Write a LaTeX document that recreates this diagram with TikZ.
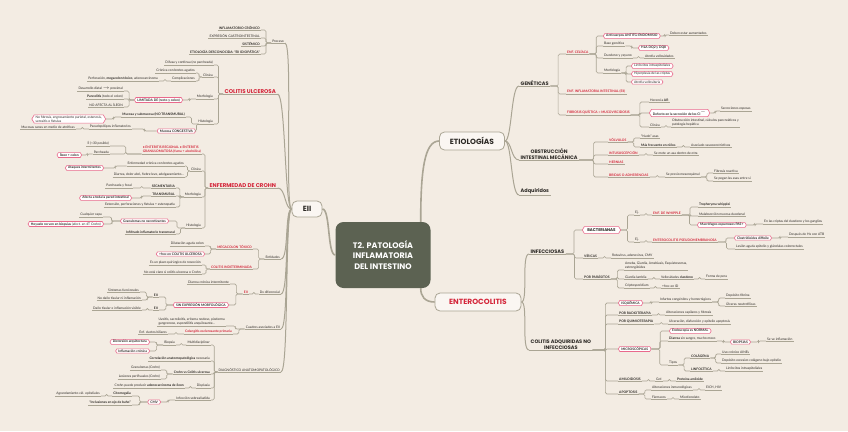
\documentclass[tikz,border=0pt]{standalone}
\usepackage{fontspec}
\setmainfont{Lato}
\newfontfamily\hd{Poppins}
\usetikzlibrary{calc,shapes.symbols}
\definecolor{bg}{RGB}{243,236,227}
\definecolor{ln}{RGB}{170,165,148}
\definecolor{rd}{RGB}{212,38,58}
\definecolor{pk}{RGB}{233,105,140}
\definecolor{tx}{RGB}{45,42,38}
\definecolor{dk}{RGB}{92,98,82}
\newcommand\ft{\fontsize{3.3}{3.9}\selectfont}
\newcommand\cc[2]{\draw[cn] (#1) -| ($(#1)!0.5!(#2)$) |- (#2);}
\newcommand\sL[2]{\draw[sp] (#1) .. controls +(-7,0) and +(8,0) .. (#2);}
\newcommand\sR[2]{\draw[sp] (#1) .. controls +(7,0) and +(-8,0) .. (#2);}
\tikzset{
 ul/.style={draw=ln, line width=0.6pt},
 lf/.style={font=\ft, text=tx, inner xsep=1pt, inner ysep=0.7pt,
   append after command={(\tikzlastnode.south west) edge[ul] (\tikzlastnode.south east)}},
 lfb/.style={lf, font=\ft\bfseries},
 rt/.style={lf, font=\ft\bfseries, text=rd},
 bigr/.style={lf, font=\hd\bfseries\fontsize{5.5}{6}\selectfont, text=rd, inner xsep=1.5pt},
 hdk/.style={lf, font=\hd\bfseries\fontsize{5}{6}\selectfont, text=tx, inner xsep=1.5pt},
 L/.style={anchor=south east},
 R/.style={anchor=south west},
 pb/.style={signal, signal to=west and east, signal pointer angle=120, draw=pk,
   line width=0.6pt, fill=white, font=\ft\bfseries, text=tx, inner xsep=1.5pt, inner ysep=0.9pt},
 pbn/.style={pb, font=\ft},
 cn/.style={draw=ln, line width=0.6pt, rounded corners=1.5pt},
 sp/.style={draw=ln, line width=1pt},
 mn/.style={draw=ln, line width=1.6pt},
 hub/.style={draw=ln, line width=0.8pt, fill=white!55!bg, rounded corners=5pt,
   font=\hd\bfseries\fontsize{7.5}{8}\selectfont, text=tx},
 ctrbox/.style={fill=dk, rounded corners=8pt, text=white, align=center,
   font=\hd\bfseries\fontsize{8}{10.5}\selectfont, minimum width=95pt, minimum height=66pt}
}
\begin{document}
\begin{tikzpicture}[x=1pt,y=-1pt]
\fill[bg] (0,0) rectangle (848,431);
\useasboundingbox (0,0) rectangle (848,431);

% ---------- hubs
\node[ctrbox] (ctr) at (383,255) {T2. PATOLOGÍA\\INFLAMATORIA\\DEL INTESTINO};
\node[hub, minimum width=30pt, minimum height=16pt] (eii) at (307,209) {EII};
\node[hub, minimum width=65pt, minimum height=18pt] (etio) at (472,141) {ETIOLOGÍAS};
\node[hub, text=rd, minimum width=86pt, minimum height=18pt] (ento) at (478,302) {ENTEROCOLITIS};
\draw[mn] (ctr.west) .. controls +(-8,0) and +(8,0) .. (eii.east);
\draw[mn] ([xshift=-10pt]ctr.north east) .. controls +(0,-50) and +(-15,0) .. (etio.west);
\draw[mn] ([xshift=-10pt]ctr.south east) .. controls +(0,8) and +(-10,0) .. (ento.west);

% ---------- left branch heads
\node[lf,L] (proc) at (285,43) {Proceso};
\node[bigr,R] (cu) at (223,94) {COLITIS ULCEROSA};
\node[bigr,R] (cr) at (208,188) {ENFERMEDAD DE CROHN};
\node[lf,L] (ent) at (281,259) {Entidades};
\node[lf,L] (dxd) at (281,294) {Dx diferencial};
\node[lf,L] (cua) at (281,329) {Cuadros asociados a EII};
\node[lf,L] (dg) at (281,372) {DIAGNÓSTICO ANATOMOPATOLÓGICO};
\sL{eii.west}{proc.south east}
\sL{eii.west}{cu.south east}
\sL{eii.west}{cr.south east}
\sL{eii.west}{ent.south east}
\sL{eii.west}{dxd.south east}
\sL{eii.west}{cua.south east}
\sL{eii.west}{dg.south east}

% ---------- Proceso
\node[lfb,L] (p1) at (261,30) {INFLAMATORIO CRÓNICO};
\node[lf,L] (p2) at (261,38) {EXPRESIÓN GASTROINTESTINAL};
\node[lfb,L] (p3) at (261,46) {SISTÉMICO};
\node[lfb,L] (p4) at (261,54) {ETIOLOGÍA DESCONOCIDA: “EII IDIOPÁTICA”};
\cc{proc.south west}{p1.south east}
\cc{proc.south west}{p2.south east}
\cc{proc.south west}{p3.south east}
\cc{proc.south west}{p4.south east}

% ---------- Colitis ulcerosa
\node[lf,L] (dif) at (214,65) {Difusa y continua (no parcheada)};
\node[lf,L] (cl1) at (214,77) {Clínica};
\node[lf,L] (mo1) at (214,99) {Morfología};
\node[lf,L] (hi1) at (214,124) {Histología};
\cc{cu.south west}{dif.south east}
\cc{cu.south west}{cl1.south east}
\cc{cu.south west}{mo1.south east}
\cc{cu.south west}{hi1.south east}
\node[lf,L] (c11) at (196,73) {Crónica con brotes agudos};
\node[lf,L] (c12) at (196,81) {Complicaciones};
\node[lf,L] (c121) at (159,81) {Perforación, \textbf{megacolon tóxico}, adenocarcinoma};
\cc{cl1.south west}{c11.south east}
\cc{cl1.south west}{c12.south east}
\cc{c12.south west}{c121.south east}
\node[pb,anchor=east] (pk1) at (183,100) {LIMITADA DE (recto y colon)};
\cc{mo1.south west}{pk1.east}
\node[lf,L] (m11) at (124,91) {Desarrollo distal $\rightarrow$ proximal};
\node[lf,L] (m12) at (124,99) {\textbf{Pancolitis} (todo el colon)};
\node[lf,L] (m13) at (124,107) {NO AFECTA AL ÍLEON};
\cc{pk1.west}{m11.south east}
\cc{pk1.west}{m12.south east}
\cc{pk1.west}{m13.south east}
\node[lfb,L] (h11) at (186,117) {Mucosa y submucosa (NO TRANSMURAL)};
\node[pb,anchor=east] (pk2) at (196,131) {Mucosa CONGESTIVA};
\cc{hi1.south west}{h11.south east}
\cc{hi1.south west}{pk2.east}
\node[pbn,anchor=east,align=left] (pk3) at (106,119) {No fibrosis, engrosamiento parietal, estenosis,\\serositis o fístulas};
\cc{h11.south west}{pk3.east}
\node[lf,L] (h21) at (132,129) {Pseudopólipos inflamatorios};
\node[lf,L] (h211) at (76,129) {Mucosas sanas en medio de atróficas};
\cc{pk2.west}{h21.south east}
\cc{h21.south west}{h211.south east}

% ---------- Crohn
\node[rt,L,align=left] (syn) at (202,154) {• ENTERITIS REGIONAL • ENTERITIS\\GRANULOMATOSA (fuma + alcohólica)};
\node[lf,L] (cl2) at (202,171) {Clínica};
\node[lf,L] (mo2) at (202,197) {Morfología};
\node[lf,L] (hi2) at (202,228) {Histología};
\cc{cr.south west}{syn.south east}
\cc{cr.south west}{cl2.south east}
\cc{cr.south west}{mo2.south east}
\cc{cr.south west}{hi2.south east}
\node[lf,L] (s1) at (110,146) {Íl (<30 posible)};
\node[lf,L] (s2) at (110,154) {Parcheada};
\cc{syn.south west}{s1.south east}
\cc{syn.south west}{s2.south east}
\node[pb,anchor=east] (pk4) at (82,155) {Íleon + colon};
\cc{s2.south west}{pk4.east}
\node[lf,L] (c21) at (185,166) {Enfermedad crónica con brotes agudos};
\node[lf,L] (c22) at (185,177) {Diarrea, dolor abd., fiebre leve, adelgazamiento...};
\cc{cl2.south west}{c21.south east}
\cc{cl2.south west}{c22.south east}
\node[pb,anchor=east] (pk5) at (104,168) {Ataques intermitentes};
\cc{c21.south west}{pk5.east}
\node[lfb,L] (m21) at (176,188) {SEGMENTARIA};
\node[lfb,L] (m22) at (176,196) {TRANSMURAL};
\node[lf,L] (m23) at (176,207) {Extensión, perforaciones y fístulas + estenopatía};
\cc{mo2.south west}{m21.south east}
\cc{mo2.south west}{m22.south east}
\cc{mo2.south west}{m23.south east}
\node[lf,L] (m211) at (133,188) {Parcheada y focal};
\node[pb,anchor=east] (pk6) at (132,198) {Afecta a toda la pared intestinal};
\cc{m21.south west}{m211.south east}
\cc{m22.south west}{pk6.east}
\node[pb,anchor=east] (pk7) at (169,221) {Granulomas no necrotizantes};
\node[lfb,L] (h22) at (176,234) {Infiltrado inflamatorio transmural};
\cc{hi2.south west}{pk7.east}
\cc{hi2.south west}{h22.south east}
\node[lf,L] (h221) at (103,217) {Cualquier capa};
\node[pb,anchor=east] (pk8) at (104,224) {Hoyuelo no ven en biopsias \mdseries(afect. en 4T Crohn)};
\cc{pk7.west}{h221.south east}
\cc{pk7.west}{pk8.east}

% ---------- Entidades
\node[rt,L] (mt) at (253,249) {MEGACOLON TÓXICO};
\node[rt,L] (ci) at (253,269) {COLITIS INDETERMINADA};
\cc{ent.south west}{mt.south east}
\cc{ent.south west}{ci.south east}
\node[lf,L] (mt1) at (205,246) {Dilatación aguda colon};
\node[pb,anchor=east] (pk9) at (205,254) {+frec en COLITIS ULCEROSA};
\cc{mt.south west}{mt1.south east}
\cc{mt.south west}{pk9.east}
\node[lf,L] (ci1) at (202,265) {Es un plazo quirúrgico de resección};
\node[lf,L] (ci2) at (202,274) {No está claro si colitis ulcerosa o Crohn};
\cc{ci.south west}{ci1.south east}
\cc{ci.south west}{ci2.south east}

% ---------- Dx diferencial
\node[rt,L] (eii2) at (249,294) {EII};
\cc{dxd.south west}{eii2.south east}
\node[lf,L] (dx1) at (230,284) {Diarrea crónica intermitente};
\node[pb,anchor=east] (pk10) at (229,305) {SIN EXPRESIÓN MORFOLÓGICA};
\cc{eii2.south west}{dx1.south east}
\cc{eii2.south west}{pk10.east}
\node[lfb,L] (e1) at (159,297) {EII};
\node[lfb,L] (e2) at (159,310) {EII};
\cc{pk10.west}{e1.south east}
\cc{pk10.west}{e2.south east}
\node[lf,L] (e11) at (140,292) {Síntomas funcionales};
\node[lf,L] (e12) at (142,300) {No daño tisular ni inflamación};
\node[lf,L] (e21) at (142,310) {Daño tisular e inflamación visible};
\cc{e1.south west}{e11.south east}
\cc{e1.south west}{e12.south east}
\cc{e2.south west}{e21.south east}

% ---------- Cuadros asociados
\node[lf,L,align=left] (cu1) at (226,326) {Uveítis, sacroileítis, eritema nodoso, pioderma\\gangrenoso, espondilitis anquilosante...};
\node[rt,L] (csp) at (233,334) {Colangitis esclerosante primaria};
\cc{cua.south west}{cu1.south east}
\cc{cua.south west}{csp.south east}
\node[lf,L] (csp1) at (168,334) {Enf. ductos biliares};
\cc{csp.south west}{csp1.south east}

% ---------- Diagnóstico
\node[lf,L] (dg1) at (211,345) {Multidisciplinar};
\node[lf,L] (dg2) at (211,361) {\textbf{Correlación anatomopatológica} necesaria};
\node[lfb,L] (dg3) at (211,374) {Crohn vs Colitis ulcerosa};
\node[lf,L] (dg4) at (211,388) {Displasia};
\node[lf,L] (dg5) at (211,400) {Infección sobreañadida};
\cc{dg.south west}{dg1.south east}
\cc{dg.south west}{dg2.south east}
\cc{dg.south west}{dg3.south east}
\cc{dg.south west}{dg4.south east}
\cc{dg.south west}{dg5.south east}
\node[lf,L] (bio) at (176,345) {Biopsia};
\cc{dg1.south west}{bio.south east}
\node[pb,anchor=east] (pk11) at (150,342) {Distorsión arquitectura};
\node[pb,anchor=east] (pk12) at (150,351) {Inflamación crónica};
\cc{bio.south west}{pk11.east}
\cc{bio.south west}{pk12.east}
\node[lf,L] (g1) at (161,370) {Granulomas (Crohn)};
\node[lf,L] (g2) at (161,379) {Lesiones perifisuales (Crohn)};
\cc{dg3.south west}{g1.south east}
\cc{dg3.south west}{g2.south east}
\node[lf,L] (d41) at (185,388) {Crohn puede producir \textbf{adenocarcinoma de íleon}};
\cc{dg4.south west}{d41.south east}
\node[pb,anchor=east] (pk13) at (161,402) {CMV};
\cc{dg5.south west}{pk13.east}
\node[lfb,L] (cm1) at (132,396) {Citomegalia};
\node[lfb,L] (cm2) at (132,405) {“Inclusiones en ojo de buho”};
\cc{pk13.west}{cm1.south east}
\cc{pk13.west}{cm2.south east}
\node[lf,L] (cm11) at (101,396) {Agrandamiento cél. epiteliales};
\cc{cm1.south west}{cm11.south east}

% ---------- right heads
\node[hdk,R] (gen) at (519,86) {GENÉTICAS};
\node[hdk,R,align=center] (obs) at (519,160) {OBSTRUCCIÓN\\INTESTINAL MECÁNICA};
\node[hdk,R] (adq) at (519,195) {Adquiridos};
\node[hdk,R] (inf) at (529,254) {INFECCIOSAS};
\node[hdk,R,align=center] (cad) at (529,350) {COLITIS ADQUIRIDAS NO\\INFECCIOSAS};
\sR{etio.east}{gen.south west}
\sR{etio.east}{obs.south west}
\sR{etio.east}{adq.south west}
\sR{ento.east}{inf.south west}
\sR{ento.east}{cad.south west}

% ---------- Genéticas
\node[rt,R] (cel) at (566,54) {ENF. CELÍACA};
\node[rt,R] (eiig) at (566,94) {ENF. INFLAMATORIA INTESTINAL (EII)};
\node[rt,R] (fq) at (566,115) {FIBROSIS QUÍSTICA = MUCOVISCIDOSIS};
\cc{gen.south east}{cel.south west}
\cc{gen.south east}{eiig.south west}
\cc{gen.south east}{fq.south west}
\node[pb,anchor=west] (pk14) at (603,36) {Anticuerpos ANTITG-ENDOMISIO};
\node[lf,R] (bg) at (603,46) {Base genética};
\node[lf,R] (dy) at (603,58) {Duodeno y yeyuno};
\node[lf,R] (mf) at (603,73) {Morfología};
\cc{cel.south east}{pk14.west}
\cc{cel.south east}{bg.south west}
\cc{cel.south east}{dy.south west}
\cc{cel.south east}{mf.south west}
\node[lf,R] (de) at (669,35) {Deben estar aumentados};
\cc{pk14.east}{de.south west}
\node[pb,anchor=west] (pk15) at (638,48) {HLA DQ2 y DQ8};
\cc{bg.south east}{pk15.west}
\node[lf,R] (av) at (644,58) {Atrofia vellosidades};
\cc{dy.south east}{av.south west}
\node[pbn,anchor=west] (pk16) at (631,66) {Linfocitos intraepiteliales};
\node[pbn,anchor=west] (pk17) at (631,74) {Hiperplasia de las criptas};
\node[pbn,anchor=west] (pk18) at (631,82) {Atrofia vellositaria};
\cc{mf.south east}{pk16.west}
\cc{mf.south east}{pk17.west}
\cc{mf.south east}{pk18.west}
\node[lf,R] (her) at (649,102) {Herencia \textbf{AR}};
\node[pb,anchor=west] (pk19) at (649,113) {Defecto en la secreción de los Cl$^-$};
\node[lf,R] (fcl) at (649,127) {Clínica};
\cc{fq.south east}{her.south west}
\cc{fq.south east}{pk19.west}
\cc{fq.south east}{fcl.south west}
\node[lf,R] (se) at (720,111) {Secreciones espesas};
\cc{pk19.east}{se.south west}
\node[lf,R,align=left] (ob) at (671,127) {Obstrucción intestinal, cálculos pancreáticos y\\patología hepática};
\cc{fcl.south east}{ob.south west}

% ---------- Obstrucción
\node[rt,R] (vol) at (608,142) {VÓLVULOS};
\node[rt,R] (intu) at (608,155) {INTUSUSCEPCIÓN};
\node[rt,R] (hern) at (608,164) {HERNIAS};
\node[rt,R] (bri) at (608,177) {BRIDAS O ADHERENCIAS};
\cc{obs.south east}{vol.south west}
\cc{obs.south east}{intu.south west}
\cc{obs.south east}{hern.south west}
\cc{obs.south east}{bri.south west}
\node[lf,R] (v1) at (640,138) {“Nudo” asas};
\node[lfb,R] (v2) at (640,147) {Más frecuente en niños};
\cc{vol.south east}{v1.south west}
\cc{vol.south east}{v2.south west}
\node[lf,R] (v21) at (690,147) {Asociado vasoconstrictivos};
\cc{v2.south east}{v21.south west}
\node[lf,R] (i1) at (653,155) {Se mete un asa dentro de otra};
\cc{intu.south east}{i1.south west}
\node[lf,R] (b1) at (665,177) {Se previo mesenquimal};
\cc{bri.south east}{b1.south west}
\node[lf,R] (b11) at (713,173) {Fibrosis reactiva};
\node[lf,R] (b12) at (713,181) {Se pegan las asas entre sí};
\cc{b1.south east}{b11.south west}
\cc{b1.south east}{b12.south west}

% ---------- Infecciosas
\node[pb,anchor=west,font=\hd\bfseries\fontsize{4}{5}\selectfont,inner xsep=3pt,inner ysep=2pt] (bac) at (582,230) {BACTERIANAS};
\node[lfb,R] (vir) at (583,258) {VÍRICAS};
\node[lfb,R] (par) at (583,279) {POR PARÁSITOS};
\cc{inf.south east}{bac.west}
\cc{inf.south east}{vir.south west}
\cc{inf.south east}{par.south west}
\node[lf,R] (ej1) at (634,215) {Ej.};
\node[lf,R] (ej2) at (634,242) {Ej.};
\cc{bac.east}{ej1.south west}
\cc{bac.east}{ej2.south west}
\node[rt,R] (wh) at (652,215) {ENF. DE WHIPPLE};
\node[rt,R] (pm) at (652,242) {ENTEROCOLITIS PSEUDOMEMBRANOSA};
\cc{ej1.south east}{wh.south west}
\cc{ej2.south east}{pm.south west}
\node[lfb,R] (w1) at (698,207) {Tropheryma whipplei};
\node[lf,R] (w2) at (698,216) {Malabsorción mucosa duodenal};
\node[pb,anchor=west] (pk21) at (697,225) {Macrófagos espumosos PAS+};
\cc{wh.south east}{w1.south west}
\cc{wh.south east}{w2.south west}
\cc{wh.south east}{pk21.west}
\node[lf,R] (w31) at (763,224) {En las criptas del duodeno y los ganglios};
\cc{pk21.east}{w31.south west}
\node[pb,anchor=west] (pk22) at (734,238) {Clostridioides difficile};
\node[lf,R] (pm2) at (735,249) {Lesión aguda epitelio y glándulas colorrectales};
\cc{pm.south east}{pk22.west}
\cc{pm.south east}{pm2.south west}
\node[lf,R] (pm11) at (788,237) {Después de Hx con ATB};
\cc{pk22.east}{pm11.south west}
\node[lf,R] (v31) at (611,258) {Rotavirus, adenovirus, CMV};
\cc{vir.south east}{v31.south west}
\node[lf,R,align=left] (pa1) at (624,270) {Ameba, Giardia, Amebiasis, Esquistosomas,\\estrongiloides};
\node[lf,R] (pa2) at (624,279) {Giardia lamblia};
\node[lf,R] (pa3) at (624,288) {Criptosporidium};
\cc{par.south east}{pa1.south west}
\cc{par.south east}{pa2.south west}
\cc{par.south east}{pa3.south west}
\node[lf,R] (pa21) at (660,279) {Vellosidades \textbf{duodeno}};
\node[lf,R] (pa211) at (705,279) {Forma de pera};
\node[lf,R] (pa31) at (661,288) {+frec en ID};
\cc{pa2.south east}{pa21.south west}
\cc{pa21.south east}{pa211.south west}
\cc{pa3.south east}{pa31.south west}

% ---------- Colitis adquiridas no infecciosas
\node[pb,anchor=west] (isq) at (618,303) {ISQUÉMICA};
\node[lfb,R] (rad) at (618,315) {POR RADIOTERAPIA};
\node[lfb,R] (qui) at (618,324) {POR QUIMIOTERAPIA};
\node[pb,anchor=west] (mic) at (618,349) {MICROSCÓPICAS};
\node[lfb,R] (ami) at (618,381) {AMILOIDOSIS};
\node[lfb,R] (apo) at (618,394) {APOPTOSIS};
\cc{cad.south east}{isq.west}
\cc{cad.south east}{rad.south west}
\cc{cad.south east}{qui.south west}
\cc{cad.south east}{mic.west}
\cc{cad.south east}{ami.south west}
\cc{cad.south east}{apo.south west}
\node[lf,R] (is1) at (659,302) {Infartos congénitos y hemorrágicos};
\cc{isq.east}{is1.south west}
\node[lf,R] (is11) at (725,298) {Depósito fibrina};
\node[lf,R] (is12) at (725,306) {Úlceras neutrofílicas};
\cc{is1.south east}{is11.south west}
\cc{is1.south east}{is12.south west}
\node[lf,R] (ra1) at (665,315) {Alteraciones capilares y fibrosis};
\cc{rad.south east}{ra1.south west}
\node[lf,R] (qu1) at (668,324) {Ulceración, disfunción y epitelio apoptosis};
\cc{qui.south east}{qu1.south west}
\node[pb,anchor=west] (pk25) at (669,331) {Endoscopia es NORMAL};
\node[lf,R] (di) at (668,341) {\textbf{Diarrea} sin sangre, mucho moco};
\node[lf,R] (ti) at (668,365) {Tipos};
\cc{mic.east}{pk25.west}
\cc{mic.east}{di.south west}
\cc{mic.east}{ti.south west}
\node[pb,anchor=west] (bx) at (730,342) {BIOPSIAS};
\cc{di.south east}{bx.west}
\node[lf,R] (bi1) at (766,341) {Se ve inflamación};
\cc{bx.east}{bi1.south west}
\node[lfb,R] (col) at (690,358) {COLÁGENA};
\node[lfb,R] (lin) at (690,371) {LINFOCÍTICA};
\cc{ti.south east}{col.south west}
\cc{ti.south east}{lin.south west}
\node[lf,R] (co1) at (721,354) {Uso crónico AINEs};
\node[lf,R] (co2) at (721,363) {Depósito excesivo colágeno bajo epitelio};
\cc{col.south east}{co1.south west}
\cc{col.south east}{co2.south west}
\node[lf,R] (li1) at (725,371) {Linfocitos intraepiteliales};
\cc{lin.south east}{li1.south west}
\node[lf,R] (am1) at (655,381) {Grd};
\node[lfb,R] (am11) at (676,381) {Proteína amiloide};
\cc{ami.south east}{am1.south west}
\cc{am1.south east}{am11.south west}
\node[lf,R] (ap1) at (651,390) {Alteraciones inmunológicas};
\node[lf,R] (ap2) at (651,399) {Fármacos};
\cc{apo.south east}{ap1.south west}
\cc{apo.south east}{ap2.south west}
\node[lf,R] (ap11) at (705,390) {EICH, HIV};
\node[lf,R] (ap21) at (679,399) {Micofenolato};
\cc{ap1.south east}{ap11.south west}
\cc{ap2.south east}{ap21.south west}
\end{tikzpicture}
\end{document}
